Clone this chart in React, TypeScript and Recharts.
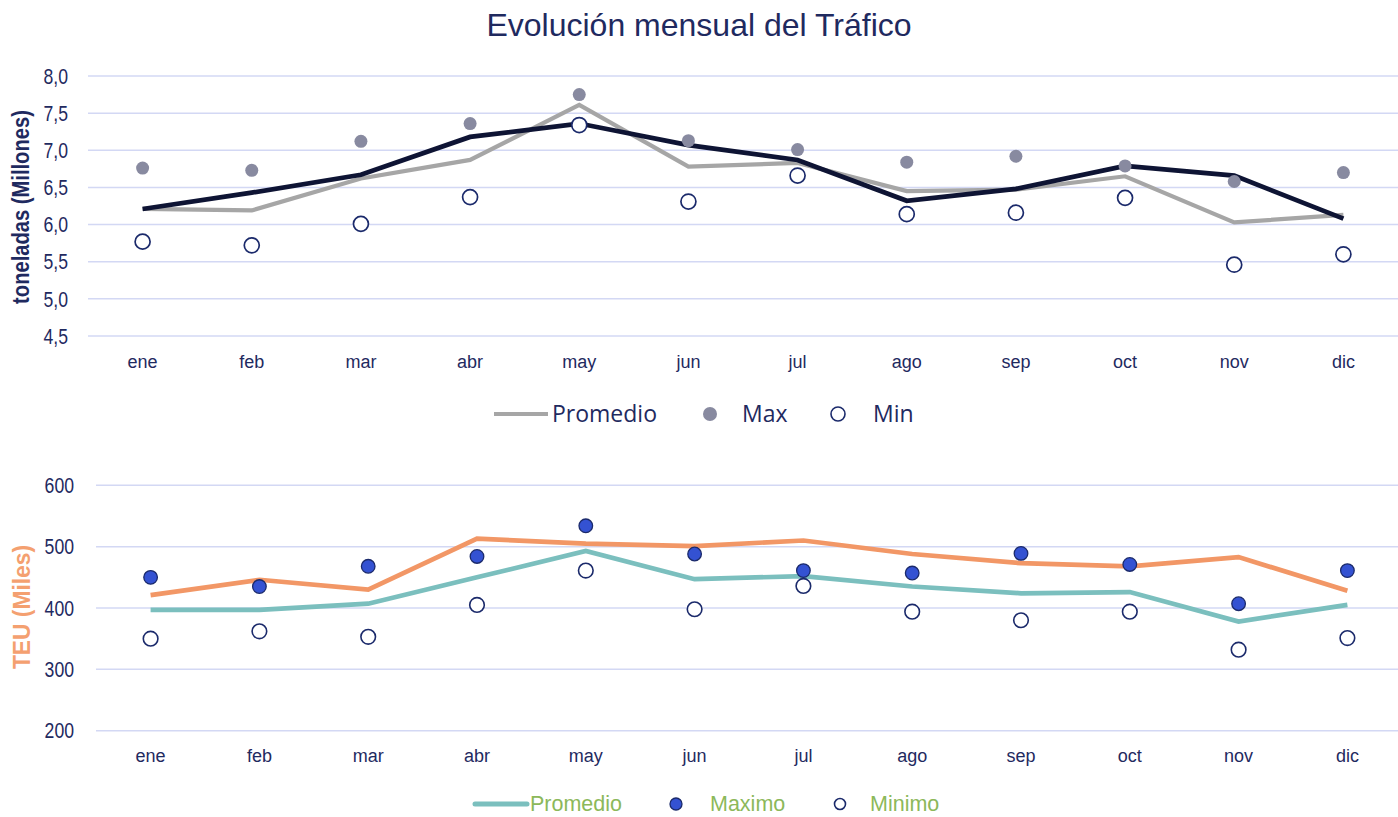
import React from "react";
import { LineChart, Line, XAxis, YAxis, CartesianGrid } from "recharts";

const months = ["ene", "feb", "mar", "abr", "may", "jun", "jul", "ago", "sep", "oct", "nov", "dic"];

// toneladas (millones)
const tonPromedio = [6.21, 6.19, 6.62, 6.87, 7.61, 6.78, 6.83, 6.45, 6.47, 6.65, 6.03, 6.13];
const tonActual = [6.21, 6.43, 6.67, 7.18, 7.36, 7.07, 6.87, 6.32, 6.48, 6.79, 6.66, 6.08];
const tonMax = [6.76, 6.73, 7.12, 7.36, 7.75, 7.13, 7.01, 6.84, 6.92, 6.79, 6.58, 6.7];
const tonMin = [5.77, 5.72, 6.01, 6.37, 7.34, 6.31, 6.66, 6.14, 6.16, 6.36, 5.46, 5.6];
const tonTicks = [4.5, 5, 5.5, 6, 6.5, 7, 7.5, 8];

// TEU (miles)
const teuPromedio = [397, 397, 407, 450, 493, 447, 452, 435, 424, 426, 378, 405];
const teuActual = [421, 446, 430, 513, 505, 501, 510, 488, 473, 468, 483, 428];
const teuMax = [450, 435, 468, 484, 534, 488, 461, 457, 489, 471, 407, 461];
const teuMin = [350, 362, 353, 405, 461, 398, 436, 394, 380, 394, 332, 351];
const teuTicks = [200, 300, 400, 500, 600];

const tonData = months.map((m, i) => ({
  m,
  prom: tonPromedio[i],
  act: tonActual[i],
  max: tonMax[i],
  min: tonMin[i],
}));

const teuData = months.map((m, i) => ({
  m,
  prom: teuPromedio[i],
  act: teuActual[i],
  max: teuMax[i],
  min: teuMin[i],
}));

const NAVY = "#1f2a5f";
const GRID = "#d3d8f4";
const arial = "'Liberation Sans', Arial, sans-serif";
const segoe = "'Open Sans', 'Noto Sans', sans-serif";

const abs = (left: number, top: number): React.CSSProperties => ({
  position: "absolute",
  left,
  top,
});

// narrow-looking y tick labels
const NarrowTick = ({ x, y, payload, comma }: any) => {
  const txt = comma ? Number(payload.value).toFixed(1).replace(".", ",") : String(payload.value);
  return (
    <g transform={`translate(${x},${y})`}>
      <text transform="scale(0.82,1)" textAnchor="end" dy="0.36em" fontSize={21.5} fill={NAVY} fontFamily={arial}>
        {txt}
      </text>
    </g>
  );
};

export default function App() {
  return (
    <div
      style={{
        position: "absolute",
        left: 0,
        top: 0,
        width: 1398,
        height: 817,
        overflow: "hidden",
        background: "#fff",
        fontFamily: arial,
      }}
    >
      <div
        style={{
          ...abs(0, 6),
          width: 1398,
          textAlign: "center",
          fontSize: 32,
          lineHeight: "38px",
          color: NAVY,
        }}
      >
        Evolución mensual del Tráfico
      </div>

      {/* top chart */}
      <div style={abs(0, 0)}>
        <LineChart width={1398} height={384} data={tonData} margin={{ top: 76, right: 0, bottom: 18, left: 0 }}>
          <CartesianGrid vertical={false} stroke={GRID} strokeWidth={1.5} />
          <XAxis
            dataKey="m"
            axisLine={false}
            tickLine={false}
            height={30}
            tickMargin={13}
            padding={{ left: 54.6, right: 54.6 }}
            tick={{ fontSize: 18, fill: NAVY, fontFamily: arial }}
          />
          <YAxis
            width={88}
            domain={[4.5, 8]}
            ticks={tonTicks}
            axisLine={false}
            tickLine={false}
            tickMargin={14}
            tick={<NarrowTick comma />}
          />
          <Line dataKey="prom" stroke="#a6a6a6" strokeWidth={4.2} dot={false} activeDot={false} isAnimationActive={false} />
          <Line dataKey="act" stroke="#0e1434" strokeWidth={4.7} dot={false} activeDot={false} isAnimationActive={false} />
          <Line
            dataKey="max"
            stroke="none"
            dot={{ r: 6.5, fill: "#888aa0", stroke: "none" }}
            activeDot={false}
            isAnimationActive={false}
          />
          <Line
            dataKey="min"
            stroke="none"
            dot={{ r: 7.5, fill: "#fff", stroke: "#1b2a6b", strokeWidth: 1.7 }}
            activeDot={false}
            isAnimationActive={false}
          />
        </LineChart>
      </div>

      <div
        style={{
          ...abs(21, 207),
          transform: "translate(-50%, -50%) rotate(-90deg) scale(0.84, 1)",
          whiteSpace: "nowrap",
          fontWeight: "bold",
          fontSize: 24,
          color: NAVY,
        }}
      >
        toneladas (Millones)
      </div>

      {/* top legend */}
      <svg style={abs(0, 396)} width={1398} height={40}>
        <line x1={494} x2={548} y1={18} y2={18} stroke="#a6a6a6" strokeWidth={4} />
        <text x={552} y={25.5} fontSize={23} fill={NAVY} fontFamily={segoe}>
          Promedio
        </text>
        <circle cx={710} cy={18} r={7} fill="#888aa0" />
        <text x={742} y={25.5} fontSize={23} fill={NAVY} fontFamily={segoe}>
          Max
        </text>
        <circle cx={838} cy={18} r={7} fill="#fff" stroke="#1b2a6b" strokeWidth={1.6} />
        <text x={873} y={25.5} fontSize={23} fill={NAVY} fontFamily={segoe}>
          Min
        </text>
      </svg>

      {/* bottom chart */}
      <div style={abs(0, 440)}>
        <LineChart width={1402} height={354} data={teuData} margin={{ top: 45.3, right: 0, bottom: 33.3, left: 0 }}>
          <CartesianGrid vertical={false} stroke={GRID} strokeWidth={1.5} />
          <XAxis
            dataKey="m"
            axisLine={false}
            tickLine={false}
            height={30}
            tickMargin={13}
            padding={{ left: 54.6, right: 54.6 }}
            tick={{ fontSize: 18, fill: NAVY, fontFamily: arial }}
          />
          <YAxis
            width={96}
            domain={[200, 600]}
            ticks={teuTicks}
            axisLine={false}
            tickLine={false}
            tickMargin={16}
            tick={<NarrowTick />}
          />
          <Line dataKey="act" stroke="#f29766" strokeWidth={4.7} dot={false} activeDot={false} isAnimationActive={false} />
          <Line dataKey="prom" stroke="#7bbfbe" strokeWidth={4.7} dot={false} activeDot={false} isAnimationActive={false} />
          <Line
            dataKey="max"
            stroke="none"
            dot={{ r: 6.8, fill: "#3452d2", stroke: "#1b2a6b", strokeWidth: 1.3 }}
            activeDot={false}
            isAnimationActive={false}
          />
          <Line
            dataKey="min"
            stroke="none"
            dot={{ r: 7.3, fill: "#fff", stroke: "#1b2a6b", strokeWidth: 1.6 }}
            activeDot={false}
            isAnimationActive={false}
          />
        </LineChart>
      </div>

      <div
        style={{
          ...abs(22, 607),
          transform: "translate(-50%, -50%) rotate(-90deg) scale(0.95, 1)",
          whiteSpace: "nowrap",
          fontWeight: "bold",
          fontSize: 24,
          color: "#f4a070",
        }}
      >
        TEU (Miles)
      </div>

      {/* bottom legend */}
      <svg style={abs(0, 790)} width={1398} height={27}>
        <line x1={475} x2={527} y1={14} y2={14} stroke="#7bbfbe" strokeWidth={5} strokeLinecap="round" />
        <text x={530} y={21} fontSize={21.5} fill="#8cb85a" fontFamily={arial}>
          Promedio
        </text>
        <circle cx={676} cy={14} r={6} fill="#3452d2" stroke="#1b2a6b" strokeWidth={1.3} />
        <text x={710} y={21} fontSize={21.5} fill="#8cb85a" fontFamily={arial}>
          Maximo
        </text>
        <circle cx={840} cy={14} r={5.5} fill="#fff" stroke="#1b2a6b" strokeWidth={1.6} />
        <text x={870} y={21} fontSize={21.5} fill="#8cb85a" fontFamily={arial}>
          Minimo
        </text>
      </svg>
    </div>
  );
}
